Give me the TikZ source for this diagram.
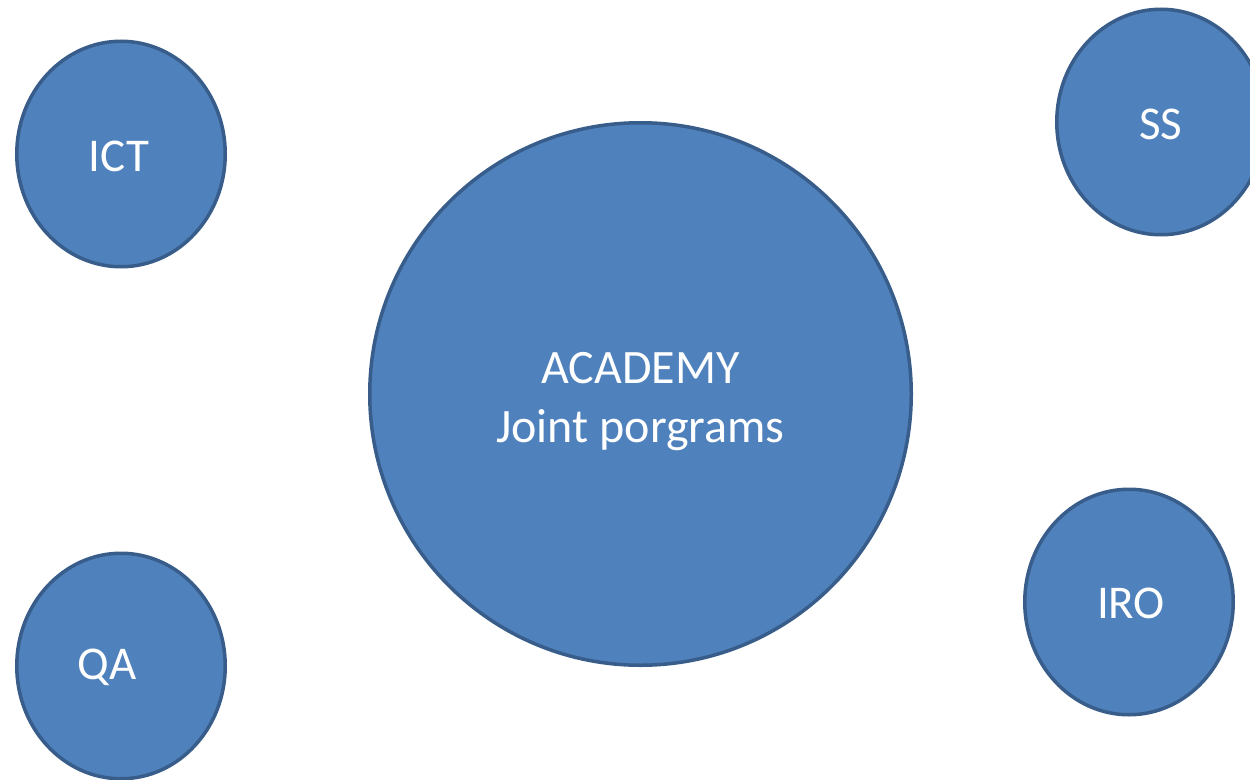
\documentclass[tikz,border=0pt]{standalone}
\usepackage{fontspec}
\setmainfont{Carlito}
\usetikzlibrary{shapes.geometric}
\definecolor{bubblefill}{HTML}{4F81BD}
\definecolor{bubbleline}{HTML}{385D8A}
\begin{document}
\begin{tikzpicture}[x=1pt,y=-1pt,
  bubble/.style={ellipse, draw=bubbleline, fill=bubblefill, line width=3.5pt, inner sep=0pt},
  small/.style={bubble, minimum width=208.5pt, minimum height=225.5pt},
  word/.style={text=white, font=\fontsize{47}{59}\selectfont, align=center, inner sep=0pt}]
\useasboundingbox (0,0) rectangle (1250,779);
\node[bubble, minimum width=541.5pt, minimum height=542.5pt,
  label={[word, font=\fontsize{48}{59}\selectfont, yshift=-8pt]center:ACADEMY\\Joint porgrams}] (academy) at (640.5,394) {};
\node[small, label={[word, xshift=-2pt, yshift=-2pt]center:ICT}] (ict) at (121,154) {};
\node[small, label={[word, yshift=-2pt]center:SS}] (ss) at (1161,122) {};
\node[small, label={[word, xshift=2pt, yshift=-1pt]center:IRO}] (iro) at (1129,602) {};
\node[small, label={[word, xshift=-14pt, yshift=-1pt]center:QA}] (qa) at (121,666) {};
\end{tikzpicture}
\end{document}
